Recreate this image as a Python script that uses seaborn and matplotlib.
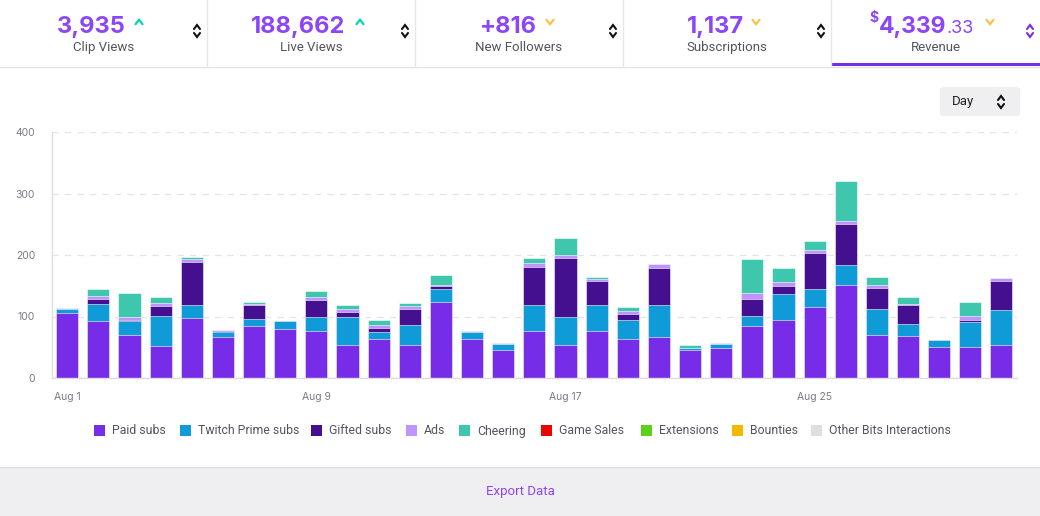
import matplotlib
matplotlib.use("Agg")
import numpy as np
import pandas as pd
import seaborn as sns
import matplotlib.pyplot as plt
from matplotlib.patches import Rectangle, FancyBboxPatch
from matplotlib.lines import Line2D

# ---------------- data ----------------
days = [f"Aug {i}" for i in range(1, 32)]
tick_labels = ["Aug 1", "Aug 9", "Aug 17", "Aug 25"]
categories = ["Paid subs", "Twitch Prime subs", "Gifted subs", "Ads", "Cheering",
              "Game Sales", "Extensions", "Bounties", "Other Bits Interactions"]
paid   = [106, 92, 70, 52, 97, 67, 85, 79, 76, 54, 64, 54, 124, 64, 46, 76, 54, 77, 63, 66,
          45, 48, 84, 94, 115, 152, 70, 69, 51, 51, 53]
prime  = [7, 28, 22, 49, 22, 7, 11, 14, 24, 46, 11, 32, 21, 11, 10, 42, 46, 42, 31, 53,
          3, 7, 17, 42, 29, 31, 42, 19, 10, 40, 57]
gifted = [0, 9, 3, 16, 69, 3, 22, 0, 27, 7, 6, 27, 4, 0, 0, 63, 95, 38, 10, 60,
          0, 0, 27, 13, 59, 67, 34, 30, 0, 3, 48]
ads    = [1, 4, 5, 5, 5, 1, 3, 0, 5, 5, 5, 4, 2, 1, 1, 6, 5, 4, 5, 6,
          1, 2, 10, 7, 5, 5, 6, 3, 0, 7, 4]
cheer  = [0, 12, 38, 9, 4, 0, 3, 0, 10, 6, 9, 5, 17, 0, 0, 8, 27, 4, 6, 0,
          4, 0, 56, 23, 14, 66, 13, 10, 0, 22, 0]
game_sales = [0] * 31
extensions = [0] * 31
bounties   = [0] * 31
other_bits = [0] * 31

stat_values = ["3,935", "188,662", "+816", "1,137", "4,339"]
stat_labels = ["Clip Views", "Live Views", "New Followers", "Subscriptions", "Revenue"]
stat_up = [True, True, False, False, False]

colors = ["#772ce8", "#0f9bd7", "#45108f", "#bf94ff", "#3fc7ae",
          "#eb0400", "#5cd11a", "#f5b700", "#dedee3"]

series = [paid, prime, gifted, ads, cheer, game_sales, extensions, bounties, other_bits]

# ---------------- figure ----------------
W, H = 1040, 516
sns.set_style("white")
plt.rcParams["font.family"] = ["Inter", "DejaVu Sans"]
fig = plt.figure(figsize=(W / 100, H / 100), dpi=100)
fig.patch.set_facecolor("white")
LBL_FONT = ["Roboto", "DejaVu Sans"]


def fx(x):
    return x / W


def fy(y):
    return 1 - y / H


def chevron(x, y, up, color, w=3.5, h=2.5, lw=1.6):
    if up:
        xs, ys = [x - w, x, x + w], [y + h, y - h, y + h]
    else:
        xs, ys = [x - w, x, x + w], [y - h, y + h, y - h]
    fig.add_artist(Line2D([fx(v) for v in xs], [fy(v) for v in ys], color=color,
                          lw=lw, solid_capstyle="round", solid_joinstyle="miter"))


# header
fig.add_artist(Line2D([0, 1], [fy(66.5), fy(66.5)], color="#e3e3e8", lw=1))
for xd in [207, 415, 623, 831]:
    fig.add_artist(Line2D([fx(xd), fx(xd)], [fy(0), fy(66)], color="#e6e6ea", lw=1))
fig.add_artist(Rectangle((fx(831), fy(66)), fx(1040) - fx(831), 3 / H,
                         color="#772ce8", lw=0))

num_centers = [91, 298, 508, 715]
caret_x = [139, 360, 550, 756, 990]
label_centers = [104, 311, 519, 727, 936]
purple = "#8c45f7"
for i in range(5):
    if i < 4:
        fig.text(fx(num_centers[i]), fy(33), stat_values[i], ha="center", va="baseline",
                 fontsize=17, fontweight="bold", color=purple)
    else:
        fig.text(fx(946), fy(33), stat_values[i], ha="right", va="baseline",
                 fontsize=16.5, fontweight="bold", color=purple)
        fig.text(fx(947), fy(33), ".33", ha="left", va="baseline",
                 fontsize=13, color=purple)
        fig.text(fx(879), fy(22), "$", ha="right", va="baseline",
                 fontsize=10, fontweight="bold", color=purple)
    fig.text(fx(label_centers[i]), fy(51), stat_labels[i], ha="center", va="baseline",
             fontsize=9.5, color="#53535f", family=LBL_FONT)
    if stat_up[i]:
        chevron(caret_x[i], 22, True, "#00d6b4", w=3.5, h=2.2, lw=1.6)
    else:
        chevron(caret_x[i], 22, False, "#f8c24a", w=3.5, h=2.2, lw=1.6)

for i, xs in enumerate([197, 405, 613, 821, 1030]):
    c = "#772ce8" if i == 4 else "#111111"
    chevron(xs, 27, True, c, w=3, h=2, lw=1.5)
    chevron(xs, 35, False, c, w=3, h=2, lw=1.5)

# Day dropdown
fig.add_artist(FancyBboxPatch((fx(940), fy(116)), fx(1020) - fx(940), 29 / H,
                              boxstyle="round,pad=0,rounding_size=0.004",
                              facecolor="#efeff1", edgecolor="none"))
fig.text(fx(952), fy(102), "Day", ha="left", va="center", fontsize=9.5, color="#222222",
         family=LBL_FONT)
chevron(1001, 98, True, "#111111", w=3, h=2, lw=1.5)
chevron(1001, 106, False, "#111111", w=3, h=2, lw=1.5)

# ---------------- chart ----------------
ax = fig.add_axes([fx(51.7), fy(378), fx(1017) - fx(51.7), 246 / H])
cum = np.cumsum(np.array(series, dtype=float), axis=0)
for k in range(len(series) - 1, -1, -1):
    if np.all(np.array(series[k]) == 0):
        continue
    sns.barplot(x=days, y=cum[k], order=days, color=colors[k], saturation=1,
                width=0.71, errorbar=None, edgecolor="#ffffff", linewidth=0.4, ax=ax)

ax.set_ylim(0, 400)
ax.set_xlim(-0.5, 30.5)
ax.set_yticks([0, 100, 200, 300, 400])
ax.set_yticklabels(["0", "100", "200", "300", "400"])
ax.set_xticks([days.index(t) for t in tick_labels])
ax.set_xticklabels(tick_labels)
ax.set_xlabel("")
ax.set_ylabel("")
ax.tick_params(axis="both", length=0, labelsize=7.5, labelcolor="#7b7b88")
ax.tick_params(axis="x", pad=10)
ax.tick_params(axis="y", pad=12)
ax.set_axisbelow(True)
ax.yaxis.grid(True, linestyle=(0, (5, 5)), color="#e3e3e8", lw=0.9)
ax.xaxis.grid(False)
for s in ["top", "right"]:
    ax.spines[s].set_visible(False)
for s in ["left", "bottom"]:
    ax.spines[s].set_color("#dcdce2")
    ax.spines[s].set_linewidth(1)
ax.set_facecolor("none")

# legend (manual, matching positions)
sq_x = [94, 180, 311, 406, 459, 541, 641, 732, 811]
for x0, lab, c in zip(sq_x, categories, colors):
    fig.add_artist(Rectangle((fx(x0), fy(436)), 11 / W, 11 / H, color=c, lw=0))
    fig.text(fx(x0 + 18), fy(434.5), lab, ha="left", va="baseline", fontsize=8.8,
             color="#53535f", family=LBL_FONT)

# bottom band
fig.add_artist(Rectangle((0, 0), 1, fy(467), facecolor="#efeff1", edgecolor="none"))
fig.add_artist(Line2D([0, 1], [fy(467), fy(467)], color="#dedee3", lw=1))
fig.text(0.5, fy(491), "Export Data", ha="center", va="center", fontsize=9.5,
         color="#8c45f7", family=LBL_FONT)

fig.savefig("out.png", dpi=100)
